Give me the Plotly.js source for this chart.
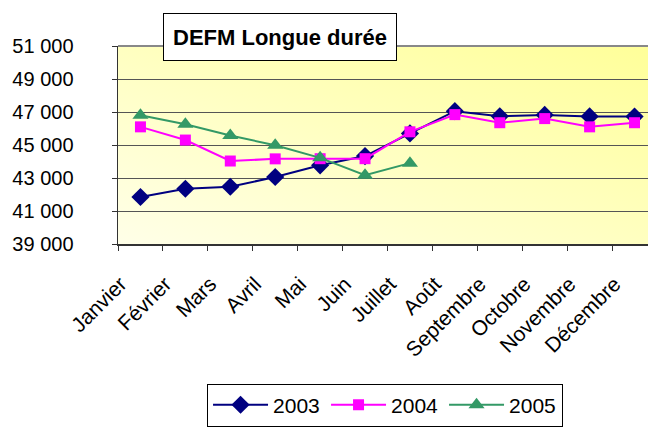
<!DOCTYPE html>
<html>
<head>
<meta charset="utf-8">
<script src="https://cdn.plot.ly/plotly-3.0.1.min.js"></script>
<style>
html,body{margin:0;padding:0;overflow:hidden;background:#fff;}
#chart{width:648px;height:427px;}
</style>
</head>
<body>
<div id="chart"></div>
<script>
var months = ["Janvier","Février","Mars","Avril","Mai","Juin","Juillet","Août","Septembre","Octobre","Novembre","Décembre"];
var y2003 = [41850, 42350, 42470, 43060, 43770, 44330, 45700, 47050, 46740, 46820, 46730, 46720];
var y2004 = [46100, 45300, 44030, 44160, 44170, 44170, 45800, 46840, 46350, 46600, 46100, 46350];
var y2005 = [46800, 46260, 45580, 44980, 44220, 43170, 43900];
var yTicks = [39000, 41000, 43000, 45000, 47000, 49000, 51000];
var chartTitle = "DEFM Longue durée";

var FONT = "Liberation Sans, Arial, sans-serif";

var traces = [
  {x: months, y: y2003, name: "2003", type: "scatter", mode: "lines+markers",
   line: {color: "#000080", width: 2}, marker: {symbol: "diamond", size: 14, color: "#000080"}},
  {x: months.slice(0, y2004.length), y: y2004, name: "2004", type: "scatter", mode: "lines+markers",
   line: {color: "#FF00FF", width: 2}, marker: {symbol: "square", size: 11, color: "#FF00FF"}},
  {x: months.slice(0, y2005.length), y: y2005, name: "2005", type: "scatter", mode: "lines+markers",
   line: {color: "#339966", width: 2}, marker: {symbol: "triangle-up", size: 14, color: "#339966"}}
];

var grad = '<svg xmlns="http://www.w3.org/2000/svg" width="100" height="100" preserveAspectRatio="none">' +
  '<defs><linearGradient id="g" x1="0" y1="1" x2="1" y2="0">' +
  '<stop offset="0" stop-color="#FFFFE8"/><stop offset="1" stop-color="#FFFF99"/></linearGradient></defs>' +
  '<rect width="100" height="100" fill="url(#g)"/></svg>';

var layout = {
  width: 648, height: 427,
  margin: {l: 118, r: 0, t: 46, b: 181},
  paper_bgcolor: "#ffffff",
  plot_bgcolor: "rgba(0,0,0,0)",
  separators: ", ",
  font: {family: FONT, size: 20, color: "#000"},
  showlegend: true,
  legend: {
    orientation: "h", x: 0.168, xanchor: "left", y: -0.705, yanchor: "top",
    bgcolor: "#fff", bordercolor: "#000", borderwidth: 1,
    itemwidth: 55, entrywidth: 48, entrywidthmode: "pixels",
    font: {family: FONT, size: 21, color: "#000"}
  },
  xaxis: {
    type: "category", range: [-0.5, 11.3], fixedrange: true,
    showgrid: false, zeroline: false,
    showline: true, linecolor: "#333", linewidth: 1.5,
    ticks: "outside", ticklen: 5, tickcolor: "#333", tickson: "boundaries",
    tickangle: -45, ticklabelstandoff: 18, ticklabelshift: -20,
    tickfont: {family: FONT, size: 21, color: "#000"}
  },
  yaxis: {
    range: [39000, 51000], tickvals: yTicks, tickformat: ",d",
    showgrid: true, gridcolor: "#555", gridwidth: 1, zeroline: false,
    showline: true, linecolor: "#333", linewidth: 1.5,
    ticks: "outside", ticklen: 5, tickcolor: "#333",
    ticklabelstandoff: 34,
    tickfont: {family: FONT, size: 20, color: "#000"}
  },
  images: [{
    source: "data:image/svg+xml;charset=utf-8," + encodeURIComponent(grad),
    xref: "paper", yref: "paper", x: 0, y: 1, sizex: 1, sizey: 1,
    xanchor: "left", yanchor: "top", sizing: "stretch", layer: "below"
  }],
  shapes: [
    {type: "line", xref: "paper", yref: "paper", x0: 0, x1: 1, y0: 1, y1: 1,
     line: {color: "#888", width: 2}}
  ],
  annotations: [{
    text: "<b>" + chartTitle + "</b>",
    xref: "paper", yref: "paper", x: 0.3057, y: 1.045, xanchor: "center", yanchor: "middle",
    showarrow: false, bgcolor: "#fff", bordercolor: "#000", borderwidth: 1, borderpad: 0,
    width: 232, height: 46,
    font: {family: FONT, size: 22, color: "#000"}
  }]
};

Plotly.newPlot("chart", traces, layout, {displayModeBar: false, staticPlot: true});
</script>
</body>
</html>
